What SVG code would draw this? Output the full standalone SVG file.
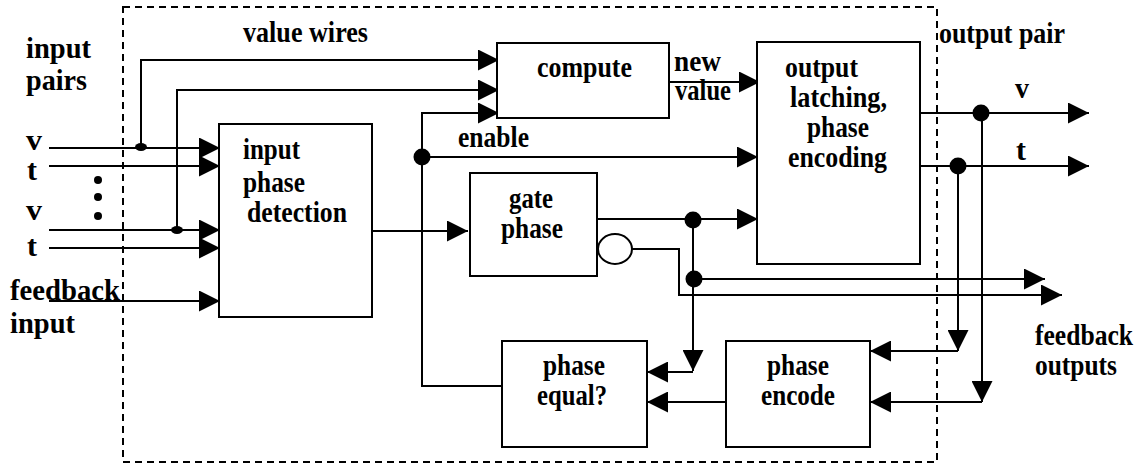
<svg xmlns="http://www.w3.org/2000/svg" width="1144" height="465" viewBox="0 0 1144 465">
<style>
.box{fill:#fff;stroke:#000;stroke-width:2}
.w{fill:none;stroke:#000;stroke-width:2}
.arr{marker-end:url(#ah)}
.dot{fill:#000}
</style>
<defs>
<marker id="ah" markerUnits="userSpaceOnUse" viewBox="0 0 20 20" markerWidth="21" markerHeight="21" refX="20" refY="10" orient="auto">
<path d="M0,0 L20,10 L0,20 z" fill="#000"/>
</marker>
</defs>
<rect width="1144" height="465" fill="#fff"/>
<g id="boundary">
<rect x="123" y="7" width="814" height="455" fill="none" stroke="#000" stroke-width="2" stroke-dasharray="7 5"/>
</g>
<g id="connectors">
<path class="w arr" d="M49,148 H220"/>
<path class="w arr" d="M49,166 H220"/>
<path class="w arr" d="M49,230 H220"/>
<path class="w arr" d="M49,248 H220"/>
<path class="w arr" d="M49,301 H220"/>
<path class="w arr" d="M141,148 V60 H499"/>
<path class="w arr" d="M177,230 V90 H499"/>
<path class="w arr" d="M372,231 H468"/>
<path class="w arr" d="M502,386 H422 V113 H499"/>
<path class="w arr" d="M422,157 H758"/>
<path class="w arr" d="M669,82 H760"/>
<path class="w arr" d="M597,219 H758"/>
<path class="w arr" d="M693,219 V371"/>
<path class="w arr" d="M693,372 H647"/>
<path class="w arr" d="M693,279 H1045"/>
<path class="w arr" d="M632,249 H679 V295 H1062"/>
<path class="w arr" d="M726,402 H647"/>
<path class="w arr" d="M920,113 H1089"/>
<path class="w arr" d="M916,166 H1089"/>
<path class="w arr" d="M958,166 V351"/>
<path class="w arr" d="M958,351 H870"/>
<path class="w arr" d="M982,113 V402"/>
<path class="w arr" d="M982,402 H870"/>
<ellipse class="dot" cx="141" cy="147" rx="6" ry="4"/>
<ellipse class="dot" cx="177" cy="230" rx="6" ry="4"/>
<circle class="dot" cx="422" cy="157" r="8.5"/>
<circle class="dot" cx="693" cy="220" r="8.5"/>
<circle class="dot" cx="694" cy="279" r="8.5"/>
<circle class="dot" cx="981" cy="113" r="8.5"/>
<circle class="dot" cx="958" cy="166" r="8.5"/>
<ellipse cx="615" cy="249" rx="17" ry="15" fill="#fff" stroke="#000" stroke-width="2"/>
<circle class="dot" cx="98" cy="180" r="4"/>
<circle class="dot" cx="98" cy="197" r="4"/>
<circle class="dot" cx="98" cy="216" r="4"/>
</g>
<g font-family="Liberation Serif, serif" font-weight="bold" font-size="29" fill="#000">
<g id="node-input-phase-detection">
<rect class="box" x="219" y="124" width="153" height="193"/>
<text x="243" y="159" textLength="57" lengthAdjust="spacingAndGlyphs">input</text>
<text x="243" y="192" textLength="62" lengthAdjust="spacingAndGlyphs">phase</text>
<text x="247" y="222" textLength="100" lengthAdjust="spacingAndGlyphs">detection</text>
</g>
<g id="node-compute">
<rect class="box" x="497" y="43" width="172" height="75"/>
<text x="537" y="77" textLength="95" lengthAdjust="spacingAndGlyphs">compute</text>
</g>
<g id="node-gate-phase">
<rect class="box" x="470" y="173" width="127" height="103"/>
<text x="509" y="208" textLength="44" lengthAdjust="spacingAndGlyphs">gate</text>
<text x="501" y="238" textLength="62" lengthAdjust="spacingAndGlyphs">phase</text>
</g>
<g id="node-output-latching">
<rect class="box" x="757" y="42" width="163" height="222"/>
<text x="785" y="77" textLength="73" lengthAdjust="spacingAndGlyphs">output</text>
<text x="790" y="107" textLength="97" lengthAdjust="spacingAndGlyphs">latching,</text>
<text x="807" y="137" textLength="62" lengthAdjust="spacingAndGlyphs">phase</text>
<text x="788" y="167" textLength="99" lengthAdjust="spacingAndGlyphs">encoding</text>
</g>
<g id="node-phase-equal">
<rect class="box" x="502" y="341" width="145" height="106"/>
<text x="543" y="375" textLength="62" lengthAdjust="spacingAndGlyphs">phase</text>
<text x="537" y="405" textLength="70" lengthAdjust="spacingAndGlyphs">equal?</text>
</g>
<g id="node-phase-encode">
<rect class="box" x="726" y="341" width="144" height="106"/>
<text x="767" y="375" textLength="62" lengthAdjust="spacingAndGlyphs">phase</text>
<text x="761" y="405" textLength="74" lengthAdjust="spacingAndGlyphs">encode</text>
</g>
<g id="labels">
<text x="243" y="42" textLength="125" lengthAdjust="spacingAndGlyphs">value wires</text>
<text x="26" y="58" textLength="65" lengthAdjust="spacingAndGlyphs">input</text>
<text x="26" y="90" textLength="61" lengthAdjust="spacingAndGlyphs">pairs</text>
<text x="26" y="150" textLength="16" lengthAdjust="spacingAndGlyphs">v</text>
<text x="27" y="180" textLength="10" lengthAdjust="spacingAndGlyphs">t</text>
<text x="26" y="220" textLength="16" lengthAdjust="spacingAndGlyphs">v</text>
<text x="27" y="256" textLength="10" lengthAdjust="spacingAndGlyphs">t</text>
<text x="10" y="300" textLength="110" lengthAdjust="spacingAndGlyphs">feedback</text>
<text x="10" y="333" textLength="65" lengthAdjust="spacingAndGlyphs">input</text>
<text x="674" y="71" textLength="47" lengthAdjust="spacingAndGlyphs">new</text>
<text x="675" y="100" textLength="56" lengthAdjust="spacingAndGlyphs">value</text>
<text x="458" y="147" textLength="71" lengthAdjust="spacingAndGlyphs">enable</text>
<text x="939" y="43" textLength="126" lengthAdjust="spacingAndGlyphs">output pair</text>
<text x="1015" y="98" textLength="14" lengthAdjust="spacingAndGlyphs">v</text>
<text x="1016" y="160" textLength="10" lengthAdjust="spacingAndGlyphs">t</text>
<text x="1035" y="345" textLength="98" lengthAdjust="spacingAndGlyphs">feedback</text>
<text x="1035" y="375" textLength="82" lengthAdjust="spacingAndGlyphs">outputs</text>
</g>
</g>
</svg>
